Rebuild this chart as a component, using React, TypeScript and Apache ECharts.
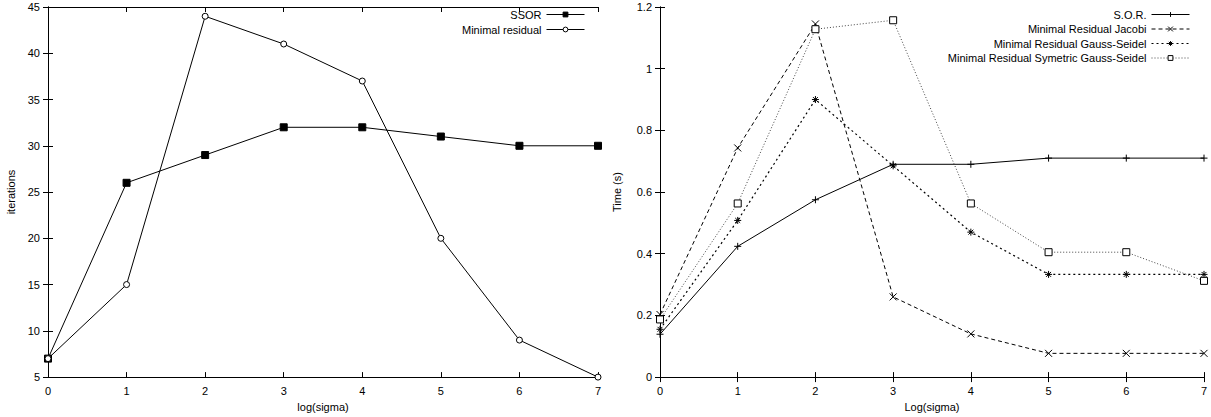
import React, { useEffect, useRef } from "react";
import * as echarts from "echarts";

const xTicks = [0, 1, 2, 3, 4, 5, 6, 7];

const ssor = [7, 26, 29, 32, 32, 31, 30, 30];
const minResidual = [7, 15, 44, 41, 37, 20, 9, 5];

const sor = [0.139, 0.424, 0.575, 0.69, 0.69, 0.71, 0.71, 0.71];
const mrJacobi = [0.203, 0.743, 1.145, 0.26, 0.14, 0.077, 0.077, 0.077];
const mrGaussSeidel = [0.155, 0.508, 0.9, 0.685, 0.47, 0.333, 0.333, 0.333];
const mrSymGaussSeidel = [0.187, 0.563, 1.128, 1.157, 0.563, 0.405, 0.405, 0.312];

const FONT = "Liberation Sans, Arial, Helvetica, sans-serif";

const PLUS = "path://M0,5L10,5M5,0L5,10";
const CROSS = "path://M0,0L10,10M10,0L0,10";
const STAR = "path://M0,5L10,5M5,0L5,10M1.5,1.5L8.5,8.5M8.5,1.5L1.5,8.5";
const SQUARE = "path://M0,0L10,0L10,10L0,10Z";
const CIRCLE = "path://M10,5A5,5,0,1,1,0,5A5,5,0,1,1,10,5Z";

const pairs = (ys: number[]) => xTicks.map((x, i) => [x, ys[i]]);

export default function App() {
  const ref = useRef<HTMLDivElement>(null);
  useEffect(() => {
    if (!ref.current) return;
    const chart = echarts.init(ref.current, undefined, { renderer: "svg" });
    const axisLine = { show: true, lineStyle: { color: "#000", width: 1 } };
    const tickIn = { show: true, inside: true, length: 5, lineStyle: { color: "#000" } };
    const lbl = { color: "#000", fontSize: 11, fontFamily: FONT };
    const xBase = (gi: number, name: string) => ({
      type: "value",
      gridIndex: gi,
      min: 0,
      max: 7,
      interval: 1,
      axisLine,
      axisTick: tickIn,
      axisLabel: { ...lbl, margin: 8 },
      splitLine: { show: false },
      name,
      nameLocation: "middle",
      nameGap: 22,
      nameTextStyle: { color: "#000", fontSize: 11, fontFamily: FONT },
    });
    const xTop = (gi: number) => ({
      type: "value",
      gridIndex: gi,
      position: "top",
      min: 0,
      max: 7,
      interval: 1,
      axisLine,
      axisTick: tickIn,
      axisLabel: { show: false },
      splitLine: { show: false },
    });
    const yRight = (gi: number, min: number, max: number, interval: number) => ({
      type: "value",
      gridIndex: gi,
      position: "right",
      min,
      max,
      interval,
      axisLine,
      axisTick: tickIn,
      axisLabel: { show: false },
      splitLine: { show: false },
    });
    const stroke = (fill: string) => ({ color: fill, borderColor: "#000", borderWidth: 1 });
    const legendCommon = {
      orient: "horizontal",
      align: "right",
      padding: 0,
      itemGap: 0,
      itemWidth: 38,
      itemHeight: 6,
      lineStyle: { width: 1 },
      itemStyle: { borderWidth: 1 },
      textStyle: { color: "#000", fontSize: 11, fontFamily: FONT },
      selectedMode: false,
    };
    chart.setOption({
      animation: false,
      backgroundColor: "#fff",
      grid: [
        { left: 48, top: 7, width: 550, height: 373 },
        { left: 660, top: 7, width: 544, height: 373 },
      ],
      xAxis: [xBase(0, "log(sigma)"), xTop(0), xBase(1, "Log(sigma)"), xTop(1)],
      yAxis: [
        {
          type: "value",
          gridIndex: 0,
          min: 5,
          max: 45,
          interval: 5,
          axisLine,
          axisTick: tickIn,
          axisLabel: lbl,
          splitLine: { show: false },
          name: "iterations",
          nameLocation: "middle",
          nameGap: 32,
          nameTextStyle: { color: "#000", fontSize: 11, fontFamily: FONT },
        },
        yRight(0, 5, 45, 5),
        {
          type: "value",
          gridIndex: 1,
          min: 0,
          max: 1.2,
          interval: 0.2,
          axisLine,
          axisTick: tickIn,
          axisLabel: { ...lbl, formatter: (v: number) => String(Math.round(v * 10) / 10) },
          splitLine: { show: false },
          name: "Time (s)",
          nameLocation: "middle",
          nameGap: 38,
          nameTextStyle: { color: "#000", fontSize: 11, fontFamily: FONT },
        },
        yRight(1, 0, 1.2, 0.2),
      ],
      legend: [
        { ...legendCommon, data: ["SSOR"], right: 626, top: 9 },
        { ...legendCommon, data: ["Minimal residual"], right: 626, top: 24 },
        { ...legendCommon, data: ["S.O.R."], right: 21, top: 9 },
        { ...legendCommon, data: ["Minimal Residual Jacobi"], right: 21, top: 23.5 },
        { ...legendCommon, data: ["Minimal Residual Gauss-Seidel"], right: 21, top: 38 },
        { ...legendCommon, data: ["Minimal Residual Symetric Gauss-Seidel"], right: 21, top: 52.5 },
      ],
      series: [
        {
          name: "SSOR",
          type: "line",
          xAxisIndex: 0,
          yAxisIndex: 0,
          data: pairs(ssor),
          symbol: SQUARE,
          symbolSize: 7,
          lineStyle: { color: "#000", width: 1 },
          itemStyle: stroke("#000"),
        },
        {
          name: "Minimal residual",
          type: "line",
          xAxisIndex: 0,
          yAxisIndex: 0,
          data: pairs(minResidual),
          symbol: CIRCLE,
          symbolSize: 6,
          lineStyle: { color: "#000", width: 1 },
          itemStyle: stroke("#fff"),
        },
        {
          name: "S.O.R.",
          type: "line",
          xAxisIndex: 2,
          yAxisIndex: 2,
          data: pairs(sor),
          symbol: PLUS,
          symbolSize: 7,
          lineStyle: { color: "#000", width: 1 },
          itemStyle: stroke("#000"),
        },
        {
          name: "Minimal Residual Jacobi",
          type: "line",
          xAxisIndex: 2,
          yAxisIndex: 2,
          data: pairs(mrJacobi),
          symbol: CROSS,
          symbolSize: 7,
          lineStyle: { color: "#000", width: 1, type: [4, 3] },
          itemStyle: stroke("#000"),
        },
        {
          name: "Minimal Residual Gauss-Seidel",
          type: "line",
          xAxisIndex: 2,
          yAxisIndex: 2,
          data: pairs(mrGaussSeidel),
          symbol: STAR,
          symbolSize: 7,
          lineStyle: { color: "#000", width: 1.2, type: [2, 3] },
          itemStyle: stroke("#000"),
        },
        {
          name: "Minimal Residual Symetric Gauss-Seidel",
          type: "line",
          xAxisIndex: 2,
          yAxisIndex: 2,
          data: pairs(mrSymGaussSeidel),
          symbol: SQUARE,
          symbolSize: 7,
          lineStyle: { color: "#444", width: 1, type: [1, 2] },
          itemStyle: stroke("#fff"),
        },
      ],
    });
    return () => chart.dispose();
  }, []);
  return (
    <div
      ref={ref}
      style={{ position: "absolute", left: 0, top: 0, width: 1211, height: 417, background: "#fff" }}
    />
  );
}
